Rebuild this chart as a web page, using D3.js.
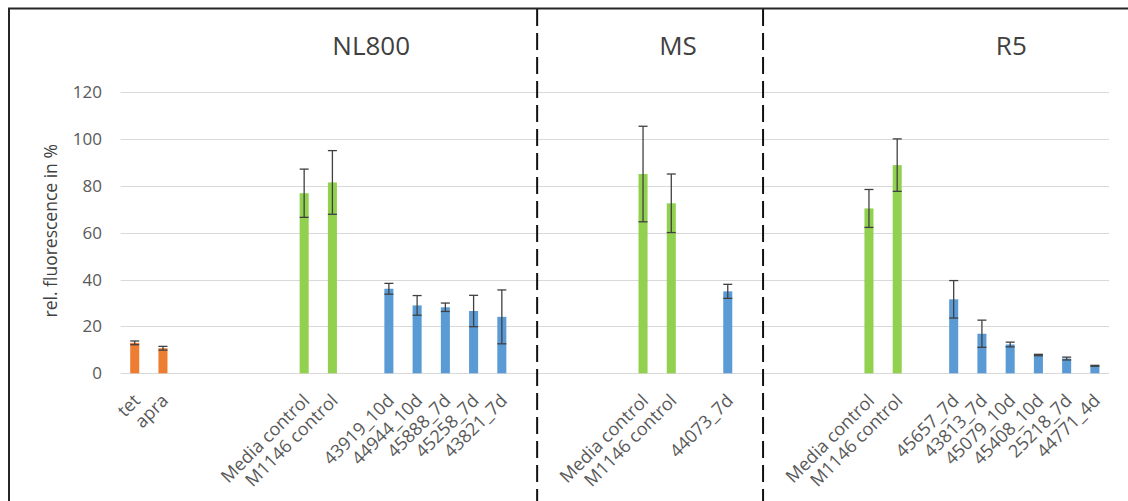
<!DOCTYPE html>
<html>
<head>
<meta charset="utf-8">
<script src="https://cdn.jsdelivr.net/npm/d3@7/dist/d3.min.js"></script>
<style>
  html, body { margin: 0; padding: 0; background: #fff; }
  svg { display: block; }
  text { font-family: "Open Sans", "DejaVu Sans", sans-serif; }
</style>
</head>
<body>
<script>
// Category slots along the x axis; empty strings are spacer slots between groups.
const categories = [
  "tet", "apra", "", "", "", "",
  "Media control", "M1146 control", "",
  "43919_10d", "44944_10d", "45888_7d", "45258_7d", "43821_7d",
  "", "", "", "",
  "Media control", "M1146 control", "", "44073_7d",
  "", "", "", "",
  "Media control", "M1146 control", "",
  "45657_7d", "43813_7d", "45079_10d", "45408_10d", "25218_7d", "44771_4d"
];

// Mean relative fluorescence (%) per slot (null = no bar).
const values = [
  13.0, 10.7, null, null, null, null,
  76.9, 81.5, null,
  36.1, 29.0, 28.2, 26.6, 24.1,
  null, null, null, null,
  85.1, 72.6, null, 35.0,
  null, null, null, null,
  70.4, 88.9, null,
  31.6, 16.9, 12.3, 7.8, 6.3, 3.2
];

// Standard deviation per slot (drawn as symmetric error bars).
const errors = [
  0.8, 0.8, null, null, null, null,
  10.3, 13.6, null,
  2.3, 4.2, 1.8, 6.7, 11.5,
  null, null, null, null,
  20.4, 12.5, null, 3.0,
  null, null, null, null,
  8.1, 11.2, null,
  8.0, 5.8, 1.0, 0.3, 0.6, 0.2
];

// Kind of sample in each slot: antibiotic reference, control, or strain extract.
const kinds = [
  "antibiotic", "antibiotic", null, null, null, null,
  "control", "control", null,
  "strain", "strain", "strain", "strain", "strain",
  null, null, null, null,
  "control", "control", null, "strain",
  null, null, null, null,
  "control", "control", null,
  "strain", "strain", "strain", "strain", "strain", "strain"
];

// Medium groups shown above the bars.
const groupNames = ["NL800", "MS", "R5"];
const yTicks = [0, 20, 40, 60, 80, 100, 120];

const W = 1128, H = 501;
const plot = { left: 120.6, right: 1109, top: 92.3, bottom: 373.3 };
const kindColor = { antibiotic: "#ED7D31", control: "#92D050", strain: "#5B9BD5" };

const svg = d3.select("body").append("svg")
  .attr("width", W).attr("height", H)
  .attr("viewBox", `0 0 ${W} ${H}`);

svg.append("rect").attr("width", W).attr("height", H).attr("fill", "#fff");

const x = d3.scaleBand()
  .domain(d3.range(categories.length))
  .range([plot.left, plot.right])
  .paddingInner(0.68)
  .paddingOuter(0.34);

const y = d3.scaleLinear().domain([0, 120]).range([plot.bottom, plot.top]);

// Horizontal gridlines (the 0 line doubles as the category axis).
svg.append("g")
  .selectAll("line")
  .data(yTicks)
  .join("line")
  .attr("x1", plot.left).attr("x2", plot.right)
  .attr("y1", d => Math.round(y(d)) + 0.5).attr("y2", d => Math.round(y(d)) + 0.5)
  .attr("stroke", "#d9d9d9").attr("stroke-width", 1);

// Value axis labels.
const yAxis = d3.axisLeft(y).tickValues(yTicks).tickSize(0).tickPadding(0);
svg.append("g")
  .attr("transform", `translate(102,0)`)
  .call(yAxis)
  .call(g => g.select(".domain").remove())
  .call(g => g.selectAll("text")
    .attr("fill", "#595959")
    .attr("font-size", 17)
    .attr("font-family", "\"Open Sans\", sans-serif"));

// Axis title.
svg.append("text")
  .attr("transform", `translate(57,${(plot.top + plot.bottom) / 2 - 2}) rotate(-90)`)
  .attr("text-anchor", "middle")
  .attr("fill", "#404040")
  .attr("font-size", 17.5)
  .text("rel. fluorescence in %");

const idx = d3.range(categories.length).filter(i => values[i] != null);

// Bars.
svg.append("g")
  .selectAll("rect")
  .data(idx)
  .join("rect")
  .attr("x", i => x(i))
  .attr("width", x.bandwidth())
  .attr("y", i => y(values[i]))
  .attr("height", i => y(0) - y(values[i]))
  .attr("fill", i => kindColor[kinds[i]]);

// Error bars.
const eb = svg.append("g")
  .attr("stroke", "#404040")
  .attr("stroke-width", 1.3)
  .selectAll("g")
  .data(idx)
  .join("g")
  .attr("transform", i => `translate(${x(i) + x.bandwidth() / 2},0)`);

eb.append("line")
  .attr("y1", i => y(values[i] + errors[i]))
  .attr("y2", i => y(values[i] - errors[i]));
eb.append("line")
  .attr("x1", -x.bandwidth() / 2).attr("x2", x.bandwidth() / 2)
  .attr("y1", i => y(values[i] + errors[i])).attr("y2", i => y(values[i] + errors[i]));
eb.append("line")
  .attr("x1", -x.bandwidth() / 2).attr("x2", x.bandwidth() / 2)
  .attr("y1", i => y(values[i] - errors[i])).attr("y2", i => y(values[i] - errors[i]));

// Rotated category labels.
svg.append("g")
  .selectAll("text")
  .data(d3.range(categories.length).filter(i => categories[i] !== ""))
  .join("text")
  .attr("transform", i => `translate(${x(i) + x.bandwidth() / 2 + 2},${plot.bottom + 24}) rotate(-45)`)
  .attr("text-anchor", "end")
  .attr("dy", "0.35em")
  .attr("fill", "#595959")
  .attr("font-size", 18)
  .text(i => categories[i]);

// Group dividers and titles.
const step = x.step();
const dividerX = [x(14) + x.bandwidth() / 2 + step * 0.25, x(22) + x.bandwidth() / 2 + step * 0.25];
svg.append("g")
  .selectAll("line")
  .data(dividerX)
  .join("line")
  .attr("x1", d => d).attr("x2", d => d)
  .attr("y1", 9).attr("y2", H)
  .attr("stroke", "#111")
  .attr("stroke-width", 2)
  .attr("stroke-dasharray", "17,7");

const titleX = [x(8) + step * 0.5 + 1, x(19) + step * 0.4, x(31) + step * 0.2];
svg.append("g")
  .selectAll("text")
  .data(groupNames)
  .join("text")
  .attr("x", (d, i) => titleX[i])
  .attr("y", 55)
  .attr("text-anchor", "middle")
  .attr("fill", "#404040")
  .attr("font-size", 26)
  .text(d => d);

// Outer frame.
svg.append("rect")
  .attr("x", 9).attr("y", 8.5)
  .attr("width", W).attr("height", H)
  .attr("fill", "none")
  .attr("stroke", "#262626")
  .attr("stroke-width", 2);
</script>
</body>
</html>
